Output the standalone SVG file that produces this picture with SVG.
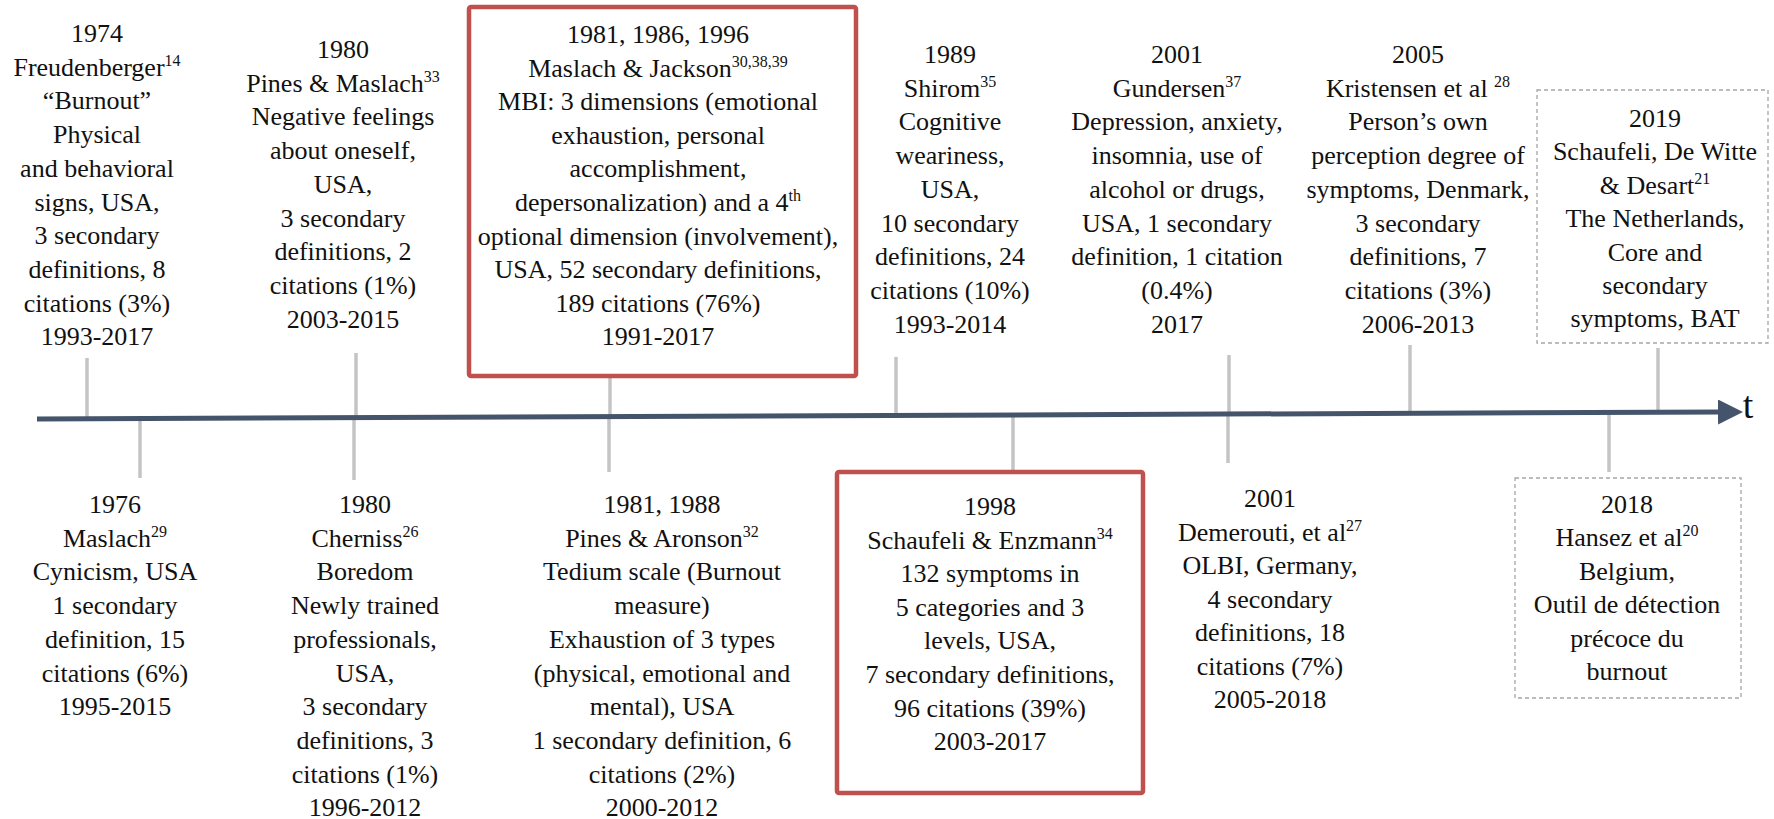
<svg xmlns="http://www.w3.org/2000/svg" width="1774" height="819" viewBox="0 0 1774 819">
<defs>
<style>
text{font-family:'Liberation Serif','DejaVu Serif',serif;font-size:26px;fill:#111;text-anchor:middle}
.sup{font-size:16px}
.tick{stroke:#c4c4c4;stroke-width:3.5;fill:none}
.red{fill:#fff;stroke:#c0504d;stroke-width:4.5}
.dash{fill:#fff;stroke:#a6a6a6;stroke-width:1.3;stroke-dasharray:4 3}
.axis{stroke:#44546a;stroke-width:5;fill:none}
</style>
<marker id="arr" markerWidth="5" markerHeight="5" refX="1" refY="2.5" orient="auto" markerUnits="strokeWidth" viewBox="0 0 5 5">
<path d="M0,0 L5,2.5 L0,5 Z" fill="#44546a"/>
</marker>
</defs>
<rect width="1774" height="819" fill="#fff"/>

<g id="connectors">
<line class="tick" x1="87" y1="358" x2="87" y2="418"/>
<line class="tick" x1="356" y1="353" x2="356" y2="417"/>
<line class="tick" x1="610" y1="358" x2="610" y2="416"/>
<line class="tick" x1="896" y1="357" x2="896" y2="415"/>
<line class="tick" x1="1229" y1="355" x2="1229" y2="414"/>
<line class="tick" x1="1410" y1="345" x2="1410" y2="413"/>
<line class="tick" x1="1658" y1="348" x2="1658" y2="412"/>
<line class="tick" x1="140" y1="419" x2="140" y2="478"/>
<line class="tick" x1="354" y1="418" x2="354" y2="480"/>
<line class="tick" x1="609" y1="417" x2="609" y2="472"/>
<line class="tick" x1="1013" y1="415" x2="1013" y2="471"/>
<line class="tick" x1="1228" y1="414" x2="1228" y2="463"/>
<line class="tick" x1="1609" y1="412" x2="1609" y2="472"/>
<line class="axis" x1="37" y1="419" x2="1723" y2="412" marker-end="url(#arr)"/>
<text x="1748" y="418" font-family="Liberation Serif, DejaVu Serif, serif" style="font-size:38px">t</text>
</g>

<g font-family="Liberation Serif, DejaVu Serif, serif">
<g id="n1974">
<text x="97" y="42">1974</text>
<text x="97" y="75.7">Freudenberger<tspan class="sup" dy="-10">14</tspan></text>
<text x="97" y="109.4">“Burnout”</text>
<text x="97" y="143.1">Physical</text>
<text x="97" y="176.8">and behavioral</text>
<text x="97" y="210.5">signs, USA,</text>
<text x="97" y="244.2">3 secondary</text>
<text x="97" y="277.9">definitions, 8</text>
<text x="97" y="311.6">citations (3%)</text>
<text x="97" y="345.3">1993-2017</text>
</g>

<g id="n1980a">
<text x="343" y="58">1980</text>
<text x="343" y="91.7">Pines &amp; Maslach<tspan class="sup" dy="-10">33</tspan></text>
<text x="343" y="125.4">Negative feelings</text>
<text x="343" y="159.1">about oneself,</text>
<text x="343" y="192.8">USA,</text>
<text x="343" y="226.5">3 secondary</text>
<text x="343" y="260.2">definitions, 2</text>
<text x="343" y="293.9">citations (1%)</text>
<text x="343" y="327.6">2003-2015</text>
</g>

<g id="n1981mbi">
<rect class="red" x="469" y="7" width="387" height="369" rx="2"/>
<text x="658" y="43">1981, 1986, 1996</text>
<text x="658" y="76.6">Maslach &amp; Jackson<tspan class="sup" dy="-10">30,38,39</tspan></text>
<text x="658" y="110.2">MBI: 3 dimensions (emotional</text>
<text x="658" y="143.8">exhaustion, personal</text>
<text x="658" y="177.4">accomplishment,</text>
<text x="658" y="211">depersonalization) and a 4<tspan class="sup" dy="-10">th</tspan></text>
<text x="658" y="244.6">optional dimension (involvement),</text>
<text x="658" y="278.2">USA, 52 secondary definitions,</text>
<text x="658" y="311.8">189 citations (76%)</text>
<text x="658" y="345.4">1991-2017</text>
</g>

<g id="n1989">
<text x="950" y="63">1989</text>
<text x="950" y="96.7">Shirom<tspan class="sup" dy="-10">35</tspan></text>
<text x="950" y="130.4">Cognitive</text>
<text x="950" y="164.1">weariness,</text>
<text x="950" y="197.8">USA,</text>
<text x="950" y="231.5">10 secondary</text>
<text x="950" y="265.2">definitions, 24</text>
<text x="950" y="298.9">citations (10%)</text>
<text x="950" y="332.6">1993-2014</text>
</g>

<g id="n2001a">
<text x="1177" y="63">2001</text>
<text x="1177" y="96.7">Gundersen<tspan class="sup" dy="-10">37</tspan></text>
<text x="1177" y="130.4">Depression, anxiety,</text>
<text x="1177" y="164.1">insomnia, use of</text>
<text x="1177" y="197.8">alcohol or drugs,</text>
<text x="1177" y="231.5">USA, 1 secondary</text>
<text x="1177" y="265.2">definition, 1 citation</text>
<text x="1177" y="298.9">(0.4%)</text>
<text x="1177" y="332.6">2017</text>
</g>

<g id="n2005">
<text x="1418" y="63">2005</text>
<text x="1418" y="96.7">Kristensen et al <tspan class="sup" dy="-10">28</tspan></text>
<text x="1418" y="130.4">Person’s own</text>
<text x="1418" y="164.1">perception degree of</text>
<text x="1418" y="197.8">symptoms, Denmark,</text>
<text x="1418" y="231.5">3 secondary</text>
<text x="1418" y="265.2">definitions, 7</text>
<text x="1418" y="298.9">citations (3%)</text>
<text x="1418" y="332.6">2006-2013</text>
</g>

<g id="n2019">
<rect class="dash" x="1537" y="90" width="231" height="253"/>
<text x="1655" y="127">2019</text>
<text x="1655" y="160.4">Schaufeli, De Witte</text>
<text x="1655" y="193.8">&amp; Desart<tspan class="sup" dy="-10">21</tspan></text>
<text x="1655" y="227.2">The Netherlands,</text>
<text x="1655" y="260.6">Core and</text>
<text x="1655" y="294">secondary</text>
<text x="1655" y="327.4">symptoms, BAT</text>
</g>

<g id="n1976">
<text x="115" y="513">1976</text>
<text x="115" y="546.7">Maslach<tspan class="sup" dy="-10">29</tspan></text>
<text x="115" y="580.4">Cynicism, USA</text>
<text x="115" y="614.1">1 secondary</text>
<text x="115" y="647.8">definition, 15</text>
<text x="115" y="681.5">citations (6%)</text>
<text x="115" y="715.2">1995-2015</text>
</g>

<g id="n1980b">
<text x="365" y="513">1980</text>
<text x="365" y="546.7">Cherniss<tspan class="sup" dy="-10">26</tspan></text>
<text x="365" y="580.4">Boredom</text>
<text x="365" y="614.1">Newly trained</text>
<text x="365" y="647.8">professionals,</text>
<text x="365" y="681.5">USA,</text>
<text x="365" y="715.2">3 secondary</text>
<text x="365" y="748.9">definitions, 3</text>
<text x="365" y="782.6">citations (1%)</text>
<text x="365" y="816.3">1996-2012</text>
</g>

<g id="n1981b">
<text x="662" y="513">1981, 1988</text>
<text x="662" y="546.7">Pines &amp; Aronson<tspan class="sup" dy="-10">32</tspan></text>
<text x="662" y="580.4">Tedium scale (Burnout</text>
<text x="662" y="614.1">measure)</text>
<text x="662" y="647.8">Exhaustion of 3 types</text>
<text x="662" y="681.5">(physical, emotional and</text>
<text x="662" y="715.2">mental), USA</text>
<text x="662" y="748.9">1 secondary definition, 6</text>
<text x="662" y="782.6">citations (2%)</text>
<text x="662" y="816.3">2000-2012</text>
</g>

<g id="n1998">
<rect class="red" x="837" y="472" width="306" height="321" rx="2"/>
<text x="990" y="515">1998</text>
<text x="990" y="548.6">Schaufeli &amp; Enzmann<tspan class="sup" dy="-10">34</tspan></text>
<text x="990" y="582.2">132 symptoms in</text>
<text x="990" y="615.8">5 categories and 3</text>
<text x="990" y="649.4">levels, USA,</text>
<text x="990" y="683">7 secondary definitions,</text>
<text x="990" y="716.6">96 citations (39%)</text>
<text x="990" y="750.2">2003-2017</text>
</g>

<g id="n2001b">
<text x="1270" y="507">2001</text>
<text x="1270" y="540.5">Demerouti, et al<tspan class="sup" dy="-10">27</tspan></text>
<text x="1270" y="574">OLBI, Germany,</text>
<text x="1270" y="607.5">4 secondary</text>
<text x="1270" y="641">definitions, 18</text>
<text x="1270" y="674.5">citations (7%)</text>
<text x="1270" y="708">2005-2018</text>
</g>

<g id="n2018">
<rect class="dash" x="1515" y="478" width="226" height="220"/>
<text x="1627" y="513">2018</text>
<text x="1627" y="546.4">Hansez et al<tspan class="sup" dy="-10">20</tspan></text>
<text x="1627" y="579.8">Belgium,</text>
<text x="1627" y="613.2">Outil de détection</text>
<text x="1627" y="646.6">précoce du</text>
<text x="1627" y="680">burnout</text>
</g>
</g>
</svg>
